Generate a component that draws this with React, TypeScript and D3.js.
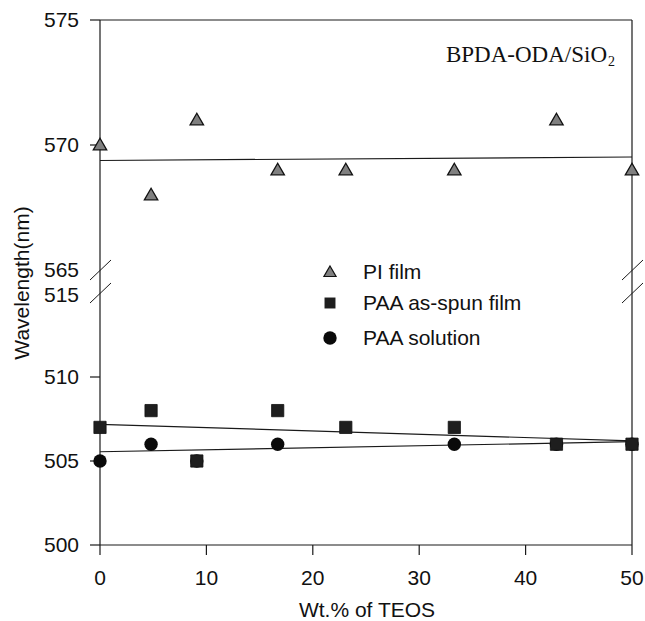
import React from "react";
import * as d3 from "d3";

const teos = [0, 4.8, 9.1, 16.7, 23.1, 33.3, 42.9, 50];
const piFilm = [570, 568, 571, 569, 569, 569, 571, 569];
const paaFilm = [507, 508, 505, 508, 507, 507, 506, 506];
const solX = [0, 4.8, 9.1, 16.7, 33.3, 42.9, 50];
const paaSolution = [505, 506, 505, 506, 506, 506, 506];
const fitX = [0, 50];
const piFit = [569.38, 569.52];
const paaFilmFit = [507.18, 506.2];
const paaSolFit = [505.55, 506.15];
const xTicks = [0, 10, 20, 30, 40, 50];
const upperTicks = [575, 570, 565];
const lowerTicks = [515, 510, 505, 500];
const legendLabels = ["PI film", "PAA as-spun film", "PAA solution"];

const W = 645, H = 621;
const x = d3.scaleLinear().domain([0, 50]).range([100, 632]);
const yU = d3.scaleLinear().domain([565, 575]).range([270, 20]);
const yL = d3.scaleLinear().domain([500, 515]).range([545, 293]);
const y = (v: number) => (v >= 540 ? yU(v) : yL(v));

const sans = "'Liberation Sans', Arial, sans-serif";
const FS = 21;
const tri = d3.symbol().type(d3.symbolTriangle).size(78)()!;
const triLeg = d3.symbol().type(d3.symbolTriangle).size(64)()!;
const sq = d3.symbol().type(d3.symbolSquare).size(150)()!;
const sqLeg = d3.symbol().type(d3.symbolSquare).size(120)()!;

export default function App() {
  const ink = "#1a1a1a";
  const fitLine = (vals: number[]) => {
    const line = d3.line<number>().x((_, i) => x(fitX[i])).y((v) => y(v));
    return line(vals)!;
  };
  const breakY = [yU(565), yL(515)];
  return (
    <svg width={W} height={H} style={{ position: "absolute", left: 0, top: 0 }}>
      <rect width={W} height={H} fill="#fff" />
      {/* frame */}
      <line x1={x(0)} x2={x(0)} y1={yU(575)} y2={yL(500)} stroke={ink} strokeWidth={1.2} />
      <line x1={x(50)} x2={x(50)} y1={yU(575)} y2={yL(500)} stroke={ink} strokeWidth={1.2} />
      <line x1={x(0)} x2={x(50)} y1={yU(575)} y2={yU(575)} stroke={ink} strokeWidth={1.2} />
      <line x1={x(0)} x2={x(50)} y1={yL(500)} y2={yL(500)} stroke={ink} strokeWidth={1.2} />
      {/* break marks */}
      {[x(0), x(50)].map((bx, i) =>
        breakY.map((by, j) => (
          <line key={`b${i}${j}`} x1={bx - 10} y1={by + 10} x2={bx + 11} y2={by - 10} stroke={ink} strokeWidth={1} />
        ))
      )}
      {/* y ticks */}
      {upperTicks.map((t) => (
        <g key={`u${t}`}>
          {t !== 565 && <line x1={x(0) - 10} x2={x(0)} y1={yU(t)} y2={yU(t)} stroke={ink} strokeWidth={1.2} />}
          <text x={79} y={yU(t) - (t === 565 ? 0.5 : 0)} dy="0.35em" textAnchor="end" fontFamily={sans} fontSize={FS} fill="#111">{t}</text>
        </g>
      ))}
      {lowerTicks.map((t) => (
        <g key={`l${t}`}>
          {t !== 515 && <line x1={x(0) - 10} x2={x(0)} y1={yL(t)} y2={yL(t)} stroke={ink} strokeWidth={1.2} />}
          <text x={79} y={yL(t) + (t === 515 ? 1.5 : 0)} dy="0.35em" textAnchor="end" fontFamily={sans} fontSize={FS} fill="#111">{t}</text>
        </g>
      ))}
      {/* x ticks */}
      {xTicks.map((t) => (
        <g key={`x${t}`}>
          <line x1={x(t)} x2={x(t)} y1={yL(500)} y2={yL(500) + 10} stroke={ink} strokeWidth={1.2} />
          <text x={x(t)} y={578} dy="0.35em" textAnchor="middle" fontFamily={sans} fontSize={FS} fill="#111">{t}</text>
        </g>
      ))}
      <text x={367} y={610} dy="0.35em" textAnchor="middle" fontFamily={sans} fontSize={FS} fill="#111">Wt.% of TEOS</text>
      <text transform="translate(22,283) rotate(-90)" dy="0.35em" textAnchor="middle" fontFamily={sans} fontSize={FS} fill="#111">Wavelength(nm)</text>
      {/* title */}
      <text x={607} y={62} textAnchor="end" fontFamily="'Liberation Serif', 'Times New Roman', serif" fontSize={23} fill="#111">BPDA-ODA/SiO</text>
      <text x={608} y={66} fontFamily="'Liberation Serif', 'Times New Roman', serif" fontSize={14} fill="#111">2</text>
      {/* fit lines */}
      <path d={fitLine(piFit)} fill="none" stroke={ink} strokeWidth={1.2} />
      <path d={fitLine(paaFilmFit)} fill="none" stroke={ink} strokeWidth={1.2} />
      <path d={fitLine(paaSolFit)} fill="none" stroke={ink} strokeWidth={1.2} />
      {/* data */}
      {teos.map((t, i) => (
        <path key={`pi${i}`} d={tri} transform={`translate(${x(t)},${y(piFilm[i]) + 1})`} fill="#808080" stroke="#111" strokeWidth={1.3} />
      ))}
      {solX.map((t, i) => (
        <circle key={`s${i}`} cx={x(t)} cy={y(paaSolution[i])} r={6.7} fill="#0a0a0a" />
      ))}
      {teos.map((t, i) => (
        <path key={`f${i}`} d={sq} transform={`translate(${x(t)},${y(paaFilm[i])})`} fill="#1e1e1e" stroke="#111" strokeWidth={0.8} />
      ))}
      {/* legend */}
      <path d={triLeg} transform="translate(330,273)" fill="#808080" stroke="#111" strokeWidth={1.2} />
      <path d={sqLeg} transform="translate(330,303)" fill="#1e1e1e" />
      <circle cx={330} cy={338} r={6.7} fill="#0a0a0a" />
      {legendLabels.map((l, i) => (
        <text key={l} x={363} y={[272, 303, 338][i]} dy="0.35em" fontFamily={sans} fontSize={FS} fill="#111">{l}</text>
      ))}
    </svg>
  );
}
